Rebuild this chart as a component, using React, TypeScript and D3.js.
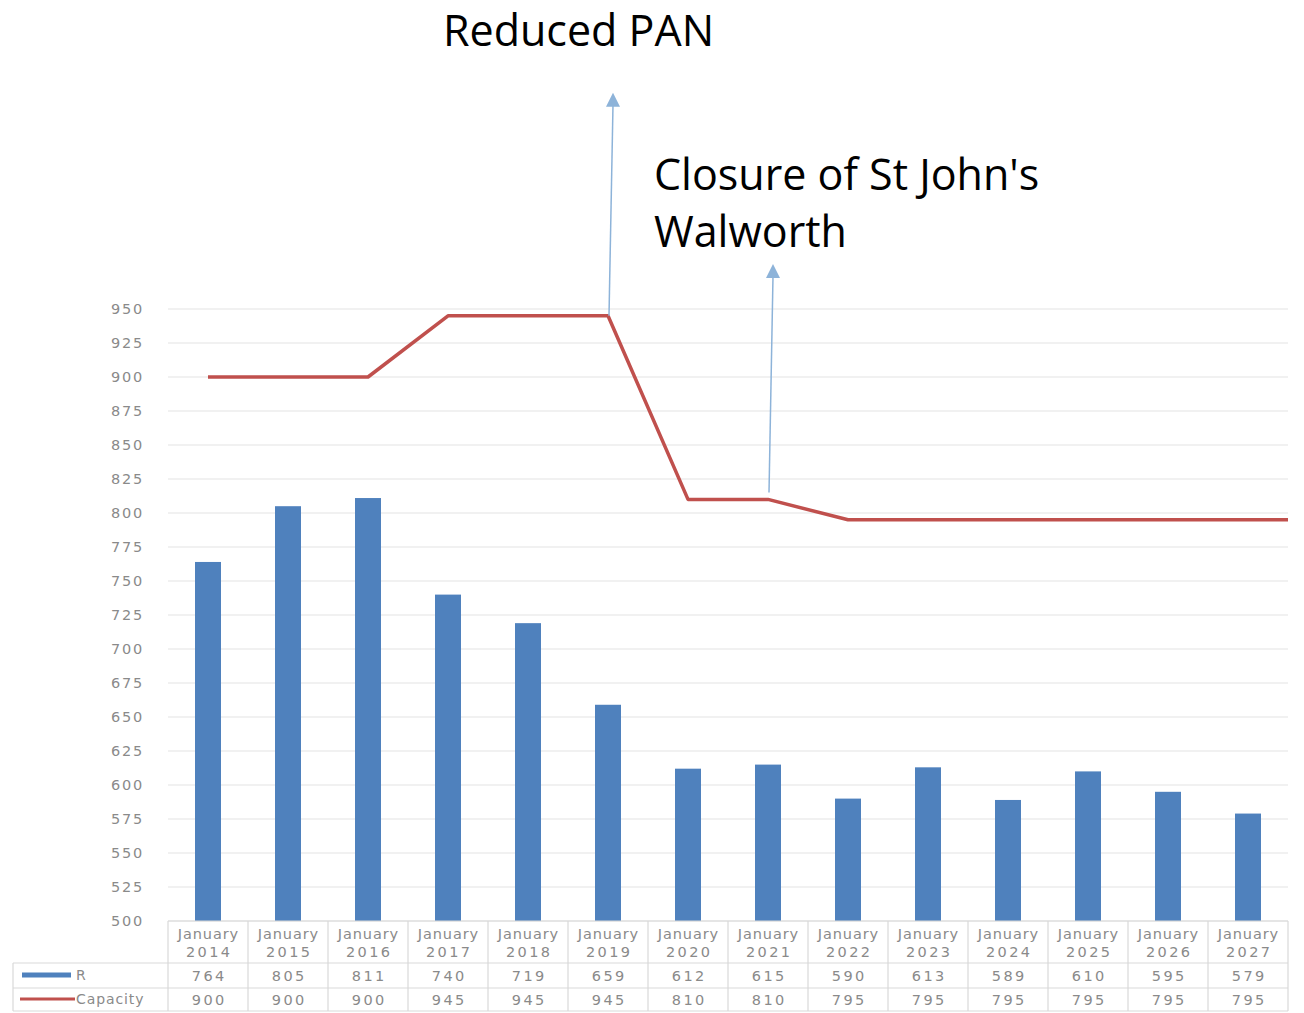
import React, { useEffect, useRef } from 'react';
import * as d3 from 'd3';

const years = ['2014', '2015', '2016', '2017', '2018', '2019', '2020', '2021', '2022', '2023', '2024', '2025', '2026', '2027'];
const rValues = [764, 805, 811, 740, 719, 659, 612, 615, 590, 613, 589, 610, 595, 579];
const capacity = [900, 900, 900, 945, 945, 945, 810, 810, 795, 795, 795, 795, 795, 795];
const yTicks = d3.range(500, 951, 25);
const notes = [
  { lines: ['Reduced PAN'], year: '2019', from: 945, to: 1109, textX: 443, textY: 46 },
  { lines: ["Closure of St John's", 'Walworth'], year: '2021', from: 815, to: 983, textX: 654, textY: 190 },
];

function App() {
  const svgRef = useRef(null);

  useEffect(() => {
    const W = 1304, H = 1013;
    const svg = d3.select(svgRef.current);
    svg.selectAll('*').remove();

    const left = 168, right = 1288, top = 309, bottom = 921;
    const x = d3.scaleBand().domain(years).range([left, right]);
    const y = d3.scaleLinear().domain([500, 950]).range([bottom, top]);
    const cx = (d) => x(d) + x.bandwidth() / 2;
    const grey = '#d9d9d9';
    const tickFont = '"DejaVu Sans", sans-serif';
    const txt = '#8a8a8a';

    // gridlines
    svg.append('g').selectAll('line').data(yTicks).enter().append('line')
      .attr('x1', left).attr('x2', right)
      .attr('y1', d => y(d)).attr('y2', d => y(d))
      .attr('stroke', '#e3e3e3').attr('stroke-width', 1.2);

    svg.append('g').selectAll('text').data(yTicks).enter().append('text')
      .attr('x', 144).attr('y', d => y(d) + 5)
      .attr('text-anchor', 'end')
      .attr('font-family', tickFont).attr('font-size', 14.5)
      .attr('letter-spacing', 1.8)
      .attr('fill', txt)
      .text(d => d);

    // bars
    const barW = 26;
    svg.append('g').selectAll('rect').data(rValues).enter().append('rect')
      .attr('x', (d, i) => cx(years[i]) - barW / 2)
      .attr('y', d => y(d))
      .attr('width', barW)
      .attr('height', d => bottom - y(d))
      .attr('fill', '#4f81bd');

    // capacity line
    const pts = capacity.map((v, i) => [cx(years[i]), y(v)]);
    pts.push([x.range()[1], y(capacity[capacity.length - 1])]);
    svg.append('path')
      .attr('d', d3.line()(pts))
      .attr('fill', 'none')
      .attr('stroke', '#c0504d')
      .attr('stroke-width', 3.5)
      .attr('stroke-linejoin', 'round');

    // data table
    const rowTop = bottom, r1 = 963, r2 = 988, r3 = 1011;
    const tbl = svg.append('g').attr('stroke', grey).attr('stroke-width', 1.2);
    [rowTop].forEach(v => tbl.append('line').attr('x1', left).attr('x2', right).attr('y1', v).attr('y2', v));
    [r1, r2, r3].forEach(v => tbl.append('line').attr('x1', 13).attr('x2', right).attr('y1', v).attr('y2', v));
    tbl.append('line').attr('x1', 13).attr('x2', 13).attr('y1', r1).attr('y2', r3);
    years.forEach(yr => {
      tbl.append('line').attr('x1', x(yr)).attr('x2', x(yr)).attr('y1', rowTop).attr('y2', r3);
    });
    tbl.append('line').attr('x1', right).attr('x2', right).attr('y1', rowTop).attr('y2', r3);

    const cell = svg.append('g')
      .attr('font-family', tickFont).attr('font-size', 14.5)
      .attr('fill', txt).attr('text-anchor', 'middle');
    const put = (xx, yy, ls, t) =>
      cell.append('text').attr('x', xx + ls / 2).attr('y', yy).attr('letter-spacing', ls).text(t);
    years.forEach((yr, i) => {
      put(cx(yr), 939, 0.9, 'January');
      put(cx(yr), 957, 2.4, yr);
      put(cx(yr), 981, 2.4, rValues[i]);
      put(cx(yr), 1005, 2.4, capacity[i]);
    });

    // legend keys
    svg.append('line').attr('x1', 22).attr('x2', 71).attr('y1', 975).attr('y2', 975)
      .attr('stroke', '#4f81bd').attr('stroke-width', 5);
    svg.append('line').attr('x1', 20).attr('x2', 75).attr('y1', 999).attr('y2', 999)
      .attr('stroke', '#c0504d').attr('stroke-width', 3);
    svg.append('text').attr('x', 76).attr('y', 980).attr('font-family', tickFont)
      .attr('font-size', 14).attr('fill', txt).text('R');
    svg.append('text').attr('x', 76).attr('y', 1004).attr('font-family', tickFont)
      .attr('font-size', 14).attr('letter-spacing', 0.9).attr('fill', txt).text('Capacity');

    // annotations
    notes.forEach(n => {
      const x0 = cx(n.year) + 1;
      const y0 = y(n.from), y1 = y(n.to);
      svg.append('line').attr('x1', x0).attr('y1', y0).attr('x2', x0 + 4).attr('y2', y1 + 12)
        .attr('stroke', '#8db3d9').attr('stroke-width', 1.5);
      svg.append('path')
        .attr('d', `M${x0 + 4},${y1} L${x0 - 3},${y1 + 14} L${x0 + 11},${y1 + 14} Z`)
        .attr('fill', '#8db3d9');
      n.lines.forEach((t, k) => {
        svg.append('text').attr('x', n.textX).attr('y', n.textY + k * 57)
          .attr('font-family', '"Open Sans", sans-serif').attr('font-size', 43)
          .attr('fill', '#000').text(t);
      });
    });
    svg.attr('width', W).attr('height', H);
  }, []);

  return (
    <svg ref={svgRef} width={1304} height={1013}
      style={{ position: 'absolute', left: 0, top: 0, background: '#fff' }} />
  );
}

export default App;
